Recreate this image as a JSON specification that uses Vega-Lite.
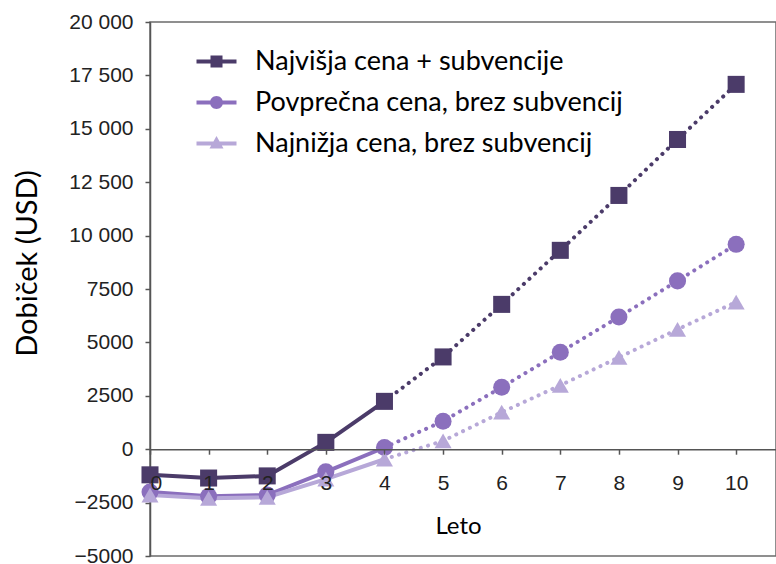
{
  "$schema": "https://vega.github.io/schema/vega-lite/v6.json",
  "width": 626,
  "height": 534,
  "autosize": "none",
  "padding": {"left": 150, "top": 22, "right": 0, "bottom": 8},
  "background": "white",
  "config": {
    "view": {"stroke": "#6b6b6b", "strokeWidth": 1.5},
    "axis": {"grid": false}
  },
  "data": {
    "values": [
      {"year": 0, "series": "Najvišja cena + subvencije", "value": -1200},
      {"year": 1, "series": "Najvišja cena + subvencije", "value": -1350},
      {"year": 2, "series": "Najvišja cena + subvencije", "value": -1250},
      {"year": 3, "series": "Najvišja cena + subvencije", "value": 320},
      {"year": 4, "series": "Najvišja cena + subvencije", "value": 2240},
      {"year": 5, "series": "Najvišja cena + subvencije", "value": 4320},
      {"year": 6, "series": "Najvišja cena + subvencije", "value": 6780},
      {"year": 7, "series": "Najvišja cena + subvencije", "value": 9310},
      {"year": 8, "series": "Najvišja cena + subvencije", "value": 11880},
      {"year": 9, "series": "Najvišja cena + subvencije", "value": 14500},
      {"year": 10, "series": "Najvišja cena + subvencije", "value": 17080},
      {"year": 0, "series": "Povprečna cena, brez subvencij", "value": -2000},
      {"year": 1, "series": "Povprečna cena, brez subvencij", "value": -2200},
      {"year": 2, "series": "Povprečna cena, brez subvencij", "value": -2150},
      {"year": 3, "series": "Povprečna cena, brez subvencij", "value": -1060},
      {"year": 4, "series": "Povprečna cena, brez subvencij", "value": 80},
      {"year": 5, "series": "Povprečna cena, brez subvencij", "value": 1310},
      {"year": 6, "series": "Povprečna cena, brez subvencij", "value": 2900},
      {"year": 7, "series": "Povprečna cena, brez subvencij", "value": 4540},
      {"year": 8, "series": "Povprečna cena, brez subvencij", "value": 6190},
      {"year": 9, "series": "Povprečna cena, brez subvencij", "value": 7880},
      {"year": 10, "series": "Povprečna cena, brez subvencij", "value": 9590},
      {"year": 0, "series": "Najnižja cena, brez subvencij", "value": -2150},
      {"year": 1, "series": "Najnižja cena, brez subvencij", "value": -2300},
      {"year": 2, "series": "Najnižja cena, brez subvencij", "value": -2250},
      {"year": 3, "series": "Najnižja cena, brez subvencij", "value": -1400},
      {"year": 4, "series": "Najnižja cena, brez subvencij", "value": -470},
      {"year": 5, "series": "Najnižja cena, brez subvencij", "value": 390},
      {"year": 6, "series": "Najnižja cena, brez subvencij", "value": 1730},
      {"year": 7, "series": "Najnižja cena, brez subvencij", "value": 2990},
      {"year": 8, "series": "Najnižja cena, brez subvencij", "value": 4300},
      {"year": 9, "series": "Najnižja cena, brez subvencij", "value": 5610},
      {"year": 10, "series": "Najnižja cena, brez subvencij", "value": 6890}
    ]
  },
  "encoding": {
    "x": {
      "field": "year",
      "type": "quantitative",
      "scale": {"domain": [0, 10.68], "nice": false},
      "axis": {
        "values": [0, 1, 2, 3, 4, 5, 6, 7, 8, 9, 10],
        "title": "Leto",
        "offset": -106.8,
        "zindex": 1,
        "domainColor": "#555555",
        "domainWidth": 1.5,
        "tickColor": "#555555",
        "tickSize": 5,
        "tickWidth": 1.5,
        "labelFont": "Liberation Sans",
        "labelFontSize": 21,
        "labelColor": "#222222",
        "labelPadding": 18,
        "titleFont": "Lato",
        "titleFontSize": 24,
        "titleFontWeight": "normal",
        "titleColor": "#000000",
        "titlePadding": 21,
        "titleX": 308
      }
    },
    "y": {
      "field": "value",
      "type": "quantitative",
      "scale": {"domain": [-5000, 20000], "nice": false},
      "axis": {
        "values": [-5000, -2500, 0, 2500, 5000, 7500, 10000, 12500, 15000, 17500, 20000],
        "labelExpr": "abs(datum.value) >= 10000 ? replace(format(datum.value, ','), ',', ' ') : format(datum.value, 'd')",
        "title": "Dobiček (USD)",
        "domainColor": "#555555",
        "domainWidth": 1.5,
        "tickColor": "#555555",
        "tickSize": 5,
        "tickWidth": 1.5,
        "labelFont": "Liberation Sans",
        "labelFontSize": 21,
        "labelColor": "#222222",
        "labelPadding": 12,
        "titleFont": "Lato",
        "titleFontSize": 29,
        "titleFontWeight": "normal",
        "titleColor": "#000000",
        "titlePadding": 26,
        "titleY": 241
      }
    }
  },
  "layer": [
    {
      "transform": [{"filter": "datum.year <= 4"}],
      "mark": {"type": "line", "strokeWidth": 4},
      "encoding": {
        "color": {
          "field": "series",
          "type": "nominal",
          "scale": {"range": ["#b7a8d8", "#4b3b69", "#8b6fbd"]},
          "legend": null
        }
      }
    },
    {
      "transform": [{"filter": "datum.year >= 4"}],
      "mark": {"type": "line", "strokeWidth": 4, "strokeDash": [0.1, 7.5], "strokeCap": "round"},
      "encoding": {
        "color": {"field": "series", "type": "nominal", "legend": null}
      }
    },
    {
      "transform": [{"filter": "datum.series === 'Najvišja cena + subvencije'"}],
      "mark": {"type": "point", "filled": true, "opacity": 1, "size": 290, "shape": "square", "color": "#4b3b69"}
    },
    {
      "transform": [{"filter": "datum.series === 'Povprečna cena, brez subvencij'"}],
      "mark": {"type": "point", "filled": true, "opacity": 1, "size": 290, "shape": "circle", "color": "#8b6fbd"}
    },
    {
      "transform": [{"filter": "datum.series === 'Najnižja cena, brez subvencij'"}],
      "mark": {"type": "point", "filled": true, "opacity": 1, "size": 290, "shape": "triangle-up", "color": "#b7a8d8"}
    },
    {
      "mark": {"type": "point", "filled": true, "opacity": 0, "size": 10},
      "encoding": {
        "fill": {
          "field": "series",
          "type": "nominal",
          "scale": {
            "domain": ["Najvišja cena + subvencije", "Povprečna cena, brez subvencij", "Najnižja cena, brez subvencij"],
            "range": ["#4b3b69", "#8b6fbd", "#b7a8d8"]
          },
          "legend": {
            "title": null,
            "orient": "none",
            "legendX": 53,
            "legendY": 26,
            "padding": 0,
            "symbolSize": 400,
            "symbolOpacity": 1,
            "symbolStrokeWidth": 0,
            "labelFont": "Lato",
            "labelFontSize": 27,
            "labelColor": "#000000",
            "labelOffset": 25,
            "labelLimit": 500,
            "rowPadding": 13
          }
        },
        "shape": {
          "field": "series",
          "type": "nominal",
          "scale": {
            "domain": ["Najvišja cena + subvencije", "Povprečna cena, brez subvencij", "Najnižja cena, brez subvencij"],
            "range": [
              "M-2,-0.2L2,-0.2L2,0.2L-2,0.2ZM-0.6,-0.6L0.6,-0.6L0.6,0.6L-0.6,0.6Z",
              "M-2,-0.2L2,-0.2L2,0.2L-2,0.2ZM-0.65,0A0.65,0.65 0 1,1 0.65,0A0.65,0.65 0 1,1 -0.65,0Z",
              "M-2,-0.2L2,-0.2L2,0.2L-2,0.2ZM0,-0.75L0.7,0.5L-0.7,0.5Z"
            ]
          },
          "legend": {
            "title": null,
            "orient": "none",
            "legendX": 53,
            "legendY": 26,
            "padding": 0,
            "symbolSize": 400,
            "symbolOpacity": 1,
            "symbolStrokeWidth": 0,
            "labelFont": "Lato",
            "labelFontSize": 27,
            "labelColor": "#000000",
            "labelOffset": 25,
            "labelLimit": 500,
            "rowPadding": 13
          }
        }
      }
    }
  ]
}
